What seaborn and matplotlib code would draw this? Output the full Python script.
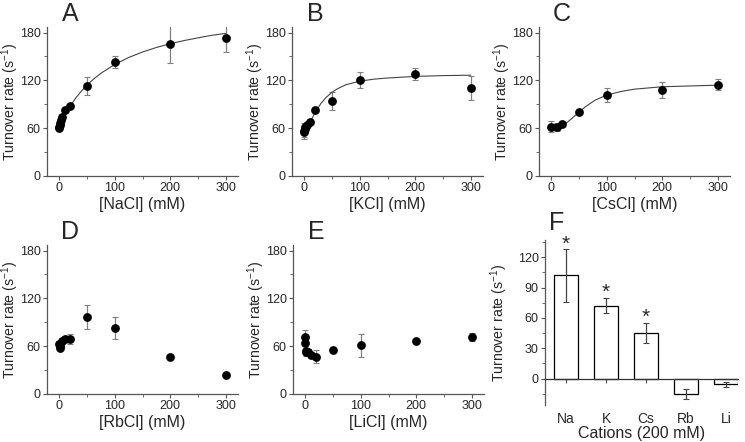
import matplotlib
matplotlib.use("Agg")
import matplotlib.pyplot as plt
from matplotlib.ticker import MultipleLocator
import seaborn as sns
import pandas as pd

sns.set_style("ticks")
plt.rcParams['font.family'] = ['Liberation Sans', 'DejaVu Sans']

# panel A - NaCl
na_x = [0, 0.5, 1, 2, 3, 5, 10, 20, 50, 100, 200, 300]
na_y = [60, 62, 64, 67, 70, 74, 83, 88, 113, 143, 166, 173]
na_err = [2, 2, 2, 2, 2, 2, 2, 2, 11, 8, 24, 18]
na_fit_x = [20, 30, 40, 50, 60, 75, 100, 125, 150, 175, 200, 225, 250, 275, 300]
na_fit_y = [88, 98, 106.6, 114, 120.5, 128.9, 140, 148.7, 155.6, 161.3, 166, 170, 173.4, 176.6, 179]

# panel B - KCl
k_x = [0, 0.5, 1, 2, 5, 10, 20, 50, 100, 200, 300]
k_y = [55, 57, 59, 61, 64, 68, 83, 94, 121, 128, 110]
k_err = [6, 10, 4, 3, 3, 3, 2, 11.5, 10, 7, 15]
k_fit_x = [0, 10, 20, 30, 40, 50, 60, 75, 100, 125, 150, 200, 250, 300]
k_fit_y = [55, 67, 80, 91, 99, 105, 109.5, 114.5, 119, 121.5, 123, 125, 126, 126.5]

# panel C - CsCl
cs_x = [0, 10, 20, 50, 100, 200, 300]
cs_y = [62, 62, 65, 80, 102, 108, 114.5]
cs_err = [7, 5, 3, 2, 9, 10, 7]
cs_fit_x = [0, 10, 20, 30, 40, 50, 60, 70, 80, 100, 125, 150, 200, 250, 300]
cs_fit_y = [62, 62.5, 64, 68, 74, 80, 86, 91, 95.5, 101.5, 106, 109, 112, 113, 114]

# panel D - RbCl
rb_x = [0, 1, 2, 5, 10, 20, 50, 100, 200, 300]
rb_y = [63, 60, 58, 66, 69, 69, 97, 83, 47, 24]
rb_err = [3, 3, 3, 3, 4, 6, 15, 14, 3, 2]

# panel E - LiCl
li_x = [0, 0.5, 1, 2, 5, 10, 20, 50, 100, 200, 300]
li_y = [72, 64, 54, 53, 53, 49, 47, 55, 61, 66, 72]
li_err = [8, 3, 3, 5, 4, 3, 8, 2, 14, 2, 5]

# panel F - cations at 200 mM
cations = ['Na', 'K', 'Cs', 'Rb', 'Li']
cat_y = [102, 72, 45, -15.3, -5.5]
cat_err = [25.8, 7.5, 10, 5, 2.5]
cat_star = [True, True, True, False, False]

W, H = 745, 442
fig = plt.figure(figsize=(W / 100, H / 100), dpi=100)


def px_axes(left, top, right, bottom):
    return fig.add_axes([left / W, 1 - bottom / H, (right - left) / W, (bottom - top) / H])


spine_col = '#555555'
ylab = 'Turnover rate (s$^{\\mathregular{-1}}$)'
lab_size = 11.5
ylab_size = 10.2


def style_axes(ax):
    for s in ['top', 'right']:
        ax.spines[s].set_visible(False)
    for s in ['left', 'bottom']:
        ax.spines[s].set_color(spine_col)
        ax.spines[s].set_linewidth(0.9)
    ax.tick_params(which='major', direction='out', length=3, width=0.8, color=spine_col,
                   labelsize=9, pad=1.5)
    ax.tick_params(which='minor', direction='out', length=2, width=0.6, color=spine_col)


def conc_panel(ax, x, y, err, xlabel, letter, fit_x=None, fit_y=None):
    df = pd.DataFrame({'x': x, 'y': y})
    ax.errorbar(x, y, yerr=err, fmt='none', ecolor='#808080', elinewidth=0.9, capsize=2, capthick=0.8, zorder=2)
    if fit_x is not None:
        sns.lineplot(x=fit_x, y=fit_y, ax=ax, color='#444444', linewidth=0.8, zorder=3)
    sns.scatterplot(data=df, x='x', y='y', ax=ax, color='black', s=40, edgecolor='black', linewidth=0, zorder=4)
    ax.set_xlim(-22, 322)
    ax.set_ylim(0, 187)
    ax.set_xticks([0, 100, 200, 300])
    ax.xaxis.set_minor_locator(MultipleLocator(50))
    ax.set_yticks([0, 60, 120, 180])
    ax.yaxis.set_minor_locator(MultipleLocator(30))
    ax.set_xlabel(xlabel, fontsize=lab_size, labelpad=2)
    ax.set_ylabel(ylab, fontsize=ylab_size)
    ax.yaxis.set_label_coords(-0.136, 0.5)
    style_axes(ax)
    ax.text(0.12, 1.01, letter, transform=ax.transAxes, fontsize=18, ha='center', va='bottom')


axA = px_axes(47, 27, 238, 176)
conc_panel(axA, na_x, na_y, na_err, '[NaCl] (mM)', 'A', na_fit_x, na_fit_y)
axB = px_axes(292, 27, 483, 176)
conc_panel(axB, k_x, k_y, k_err, '[KCl] (mM)', 'B', k_fit_x, k_fit_y)
axC = px_axes(539, 27, 730, 176)
conc_panel(axC, cs_x, cs_y, cs_err, '[CsCl] (mM)', 'C', cs_fit_x, cs_fit_y)
axD = px_axes(47, 245, 238, 394)
conc_panel(axD, rb_x, rb_y, rb_err, '[RbCl] (mM)', 'D')
axE = px_axes(293, 245, 484, 394)
conc_panel(axE, li_x, li_y, li_err, '[LiCl] (mM)', 'E')

# panel F
axF = px_axes(545, 240, 738, 405)
sns.barplot(x=cations, y=cat_y, ax=axF, color='white', edgecolor='black', linewidth=0.9,
            width=0.6, errorbar=None, saturation=1)
axF.errorbar(range(len(cations)), cat_y, yerr=cat_err, fmt='none', ecolor='#444444',
             elinewidth=0.9, capsize=2, capthick=0.8)
for i, (v, e, st) in enumerate(zip(cat_y, cat_err, cat_star)):
    if st:
        axF.text(i, v + e - 4, '*', ha='center', va='bottom', fontsize=15)
axF.set_xlim(-0.53, 4.3)
axF.set_ylim(-26, 137)
axF.set_yticks([0, 30, 60, 90, 120])
axF.yaxis.set_minor_locator(MultipleLocator(15))
style_axes(axF)
axF.spines['bottom'].set_position(('data', 0))
axF.spines['bottom'].set_color('#333333')
axF.tick_params(axis='x', which='major', pad=21, labelsize=10)
axF.set_ylabel(ylab, fontsize=ylab_size)
axF.yaxis.set_label_coords(-0.18, 0.5)
axF.set_xlabel('Cations (200 mM)', fontsize=lab_size, labelpad=0)
axF.text(0.06, 1.03, 'F', transform=axF.transAxes, fontsize=18, ha='center', va='bottom')

fig.savefig('out.png', dpi=100)
